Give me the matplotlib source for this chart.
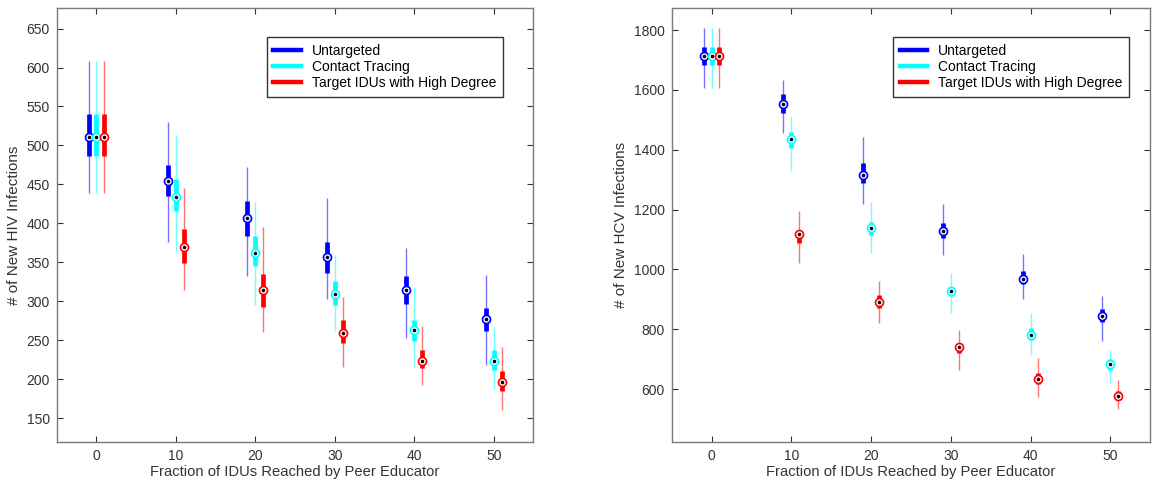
import numpy as np
import matplotlib.pyplot as plt

plt.rcParams['font.family'] = ['Liberation Sans', 'DejaVu Sans']

# x positions (fraction reached) and the three strategies
fractions = [0, 10, 20, 30, 40, 50]
strategies = ['Untargeted', 'Contact Tracing', 'Target IDUs with High Degree']
colors = ['#0000ff', '#00ffff', '#ff0000']
offsets = [-1, 0, 1]

# HIV: [whisker low, box low, median, box high, whisker high] per strategy per fraction
hiv_untargeted = [[439, 487, 511, 540, 608], [376, 435, 454, 475, 530], [332, 384, 407, 429, 473],
                  [303, 337, 357, 376, 432], [253, 296, 315, 333, 369], [219, 262, 278, 291, 334]]
hiv_contact = [[439, 487, 511, 540, 608], [364, 416, 434, 457, 513], [295, 346, 362, 384, 428],
               [262, 295, 310, 326, 359], [216, 249, 263, 276, 319], [188, 212, 224, 238, 267]]
hiv_degree = [[439, 487, 511, 540, 608], [315, 349, 370, 393, 446], [261, 293, 315, 335, 395],
              [216, 247, 260, 276, 305], [193, 214, 224, 237, 268], [161, 185, 197, 211, 242]]

# HCV
hcv_untargeted = [[1605, 1683, 1712, 1742, 1807], [1456, 1524, 1553, 1587, 1633], [1217, 1288, 1315, 1357, 1442],
                  [1047, 1106, 1130, 1155, 1220], [902, 950, 969, 995, 1050], [760, 823, 844, 868, 910]]
hcv_contact = [[1605, 1683, 1712, 1742, 1807], [1328, 1406, 1435, 1458, 1514], [1056, 1114, 1140, 1160, 1225],
               [854, 910, 928, 941, 988], [713, 763, 782, 804, 854], [621, 665, 683, 702, 730]]
hcv_degree = [[1605, 1683, 1712, 1742, 1807], [1022, 1089, 1117, 1130, 1194], [822, 872, 890, 913, 960],
              [665, 722, 739, 754, 797], [572, 616, 635, 652, 705], [532, 563, 576, 593, 630]]


def draw_panel(ax, series, ylabel, ylim, yticks, legend_right):
    for stats, color, off in zip(series, colors, offsets):
        xs = np.array(fractions) + off
        s = np.array(stats)
        ax.vlines(xs, s[:, 0], s[:, 4], color=color, lw=1.0, alpha=0.55, zorder=2)
        ax.vlines(xs, s[:, 1], s[:, 3], color=color, lw=3.4, zorder=3)
        ax.plot(xs, s[:, 2], 'o', ms=5.8, mfc='white', mec=color, mew=1.2, zorder=4)
        ax.plot(xs, s[:, 2], 'o', ms=1.6, color='black', zorder=5)
    for name, color in zip(strategies, colors):
        ax.plot([], [], color=color, lw=3.2, label=name)

    ax.set_xlim(-5, 55)
    ax.set_ylim(*ylim)
    ax.set_xticks(fractions)
    ax.set_yticks(yticks)
    ax.tick_params(direction='in', length=4, width=0.8, top=True, right=True,
                   labelsize=10, colors='#333333', pad=5)
    for sp in ax.spines.values():
        sp.set_color('#7a7a7a')
        sp.set_linewidth(1.0)
    ax.set_xlabel('Fraction of IDUs Reached by Peer Educator', fontsize=10.6, color='#333333', labelpad=2)
    ax.set_ylabel(ylabel, fontsize=11, color='#333333', labelpad=4)
    leg = ax.legend(loc='upper right', bbox_to_anchor=(legend_right, 0.934), borderaxespad=0,
                    fontsize=10, handlelength=2.0, handletextpad=0.75, labelspacing=0.15,
                    fancybox=False, framealpha=1, borderpad=0.5)
    leg.get_frame().set_edgecolor('#333333')
    leg.get_frame().set_linewidth(1.0)


fig = plt.figure(figsize=(11.6, 4.8), dpi=100)
ax1 = fig.add_axes([0.0489, 0.0798, 0.411, 0.903])
ax2 = fig.add_axes([0.579, 0.0798, 0.4125, 0.903])

draw_panel(ax1, [hiv_untargeted, hiv_contact, hiv_degree], '# of New HIV Infections',
           (120, 676), np.arange(150, 651, 50), 0.936)
draw_panel(ax2, [hcv_untargeted, hcv_contact, hcv_degree], '# of New HCV Infections',
           (424, 1873), np.arange(600, 1801, 200), 0.956)

fig.savefig('out.png', dpi=100)
